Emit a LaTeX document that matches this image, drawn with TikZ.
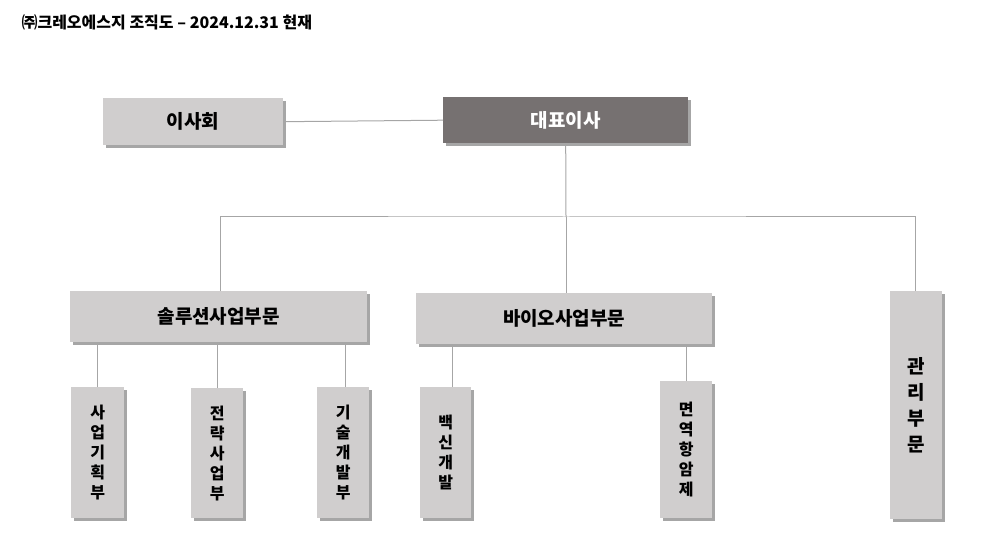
\documentclass[tikz,border=0pt]{standalone}
\usepackage{fontspec}
\setmainfont{Noto Sans CJK KR}
\usetikzlibrary{shadows}
\definecolor{boxgray}{HTML}{D0CECE}
\definecolor{bossgray}{HTML}{767171}
\definecolor{linegray}{HTML}{A6A6A6}
\tikzset{
  unit/.style={anchor=north west, inner sep=0pt, fill=boxgray,
    drop shadow={shadow xshift=3pt, shadow yshift=-3pt, fill=gray!70, opacity=1},
    font=\fontsize{19}{22}\selectfont\bfseries},
  dept/.style={unit, align=center, font=\fontsize{16}{20}\selectfont\bfseries},
  link/.style={linegray, line width=1pt}
}
\begin{document}
\begin{tikzpicture}[x=1pt,y=-1pt]
\useasboundingbox (0,0) rectangle (990,553);
\node[anchor=west, font=\fontsize{16}{18}\selectfont\bfseries] (title) at (18,22) {㈜크레오에스지 조직도 – 2024.12.31 현재};
% top level
\node[unit, minimum width=180pt, minimum height=47pt] (board) at (103,98) {이사회};
\node[unit, fill=bossgray, text=white, minimum width=245pt, minimum height=46pt] (ceo) at (443,97) {대표이사};
% divisions
\node[unit, minimum width=297pt, minimum height=51pt] (sol) at (70,291) {솔루션사업부문};
\node[unit, minimum width=296pt, minimum height=51pt] (bio) at (416,293) {바이오사업부문};
\node[dept, minimum width=52pt, minimum height=228pt, font=\fontsize{19}{26}\selectfont\bfseries] (adm) at (890,291) {관\\리\\부\\문};
% departments
\node[dept, minimum width=53pt, minimum height=131pt] (plan) at (71,387) {사\\업\\기\\획\\부};
\node[dept, minimum width=52pt, minimum height=130pt] (strat) at (191,388) {전\\략\\사\\업\\부};
\node[dept, minimum width=52pt, minimum height=131pt] (tech) at (317,387) {기\\술\\개\\발\\부};
\node[dept, minimum width=51pt, minimum height=131pt] (vac) at (420,387) {백\\신\\개\\발};
\node[dept, minimum width=52pt, minimum height=137pt] (immu) at (660,381) {면\\역\\항\\암\\제};
\coordinate (bus) at (566,217);
% connectors
\draw[link] (board.east) -- (ceo.west);
\draw[link] (ceo.south) -- (bus);
\draw[link] (sol.north -| 220,0) |- (bus) -| (adm.north -| 915,0);
\draw[link] (bus) -- (bio.north -| bus);
\draw[link] (plan.north -| 97,0) -- (sol.south -| 97,0);
\draw[link] (strat.north -| 217,0) -- (sol.south -| 217,0);
\draw[link] (tech.north -| 345,0) -- (sol.south -| 345,0);
\draw[link] (vac.north -| 452,0) -- (bio.south -| 452,0);
\draw[link] (immu.north -| 686,0) -- (bio.south -| 686,0);
\end{tikzpicture}
\end{document}
